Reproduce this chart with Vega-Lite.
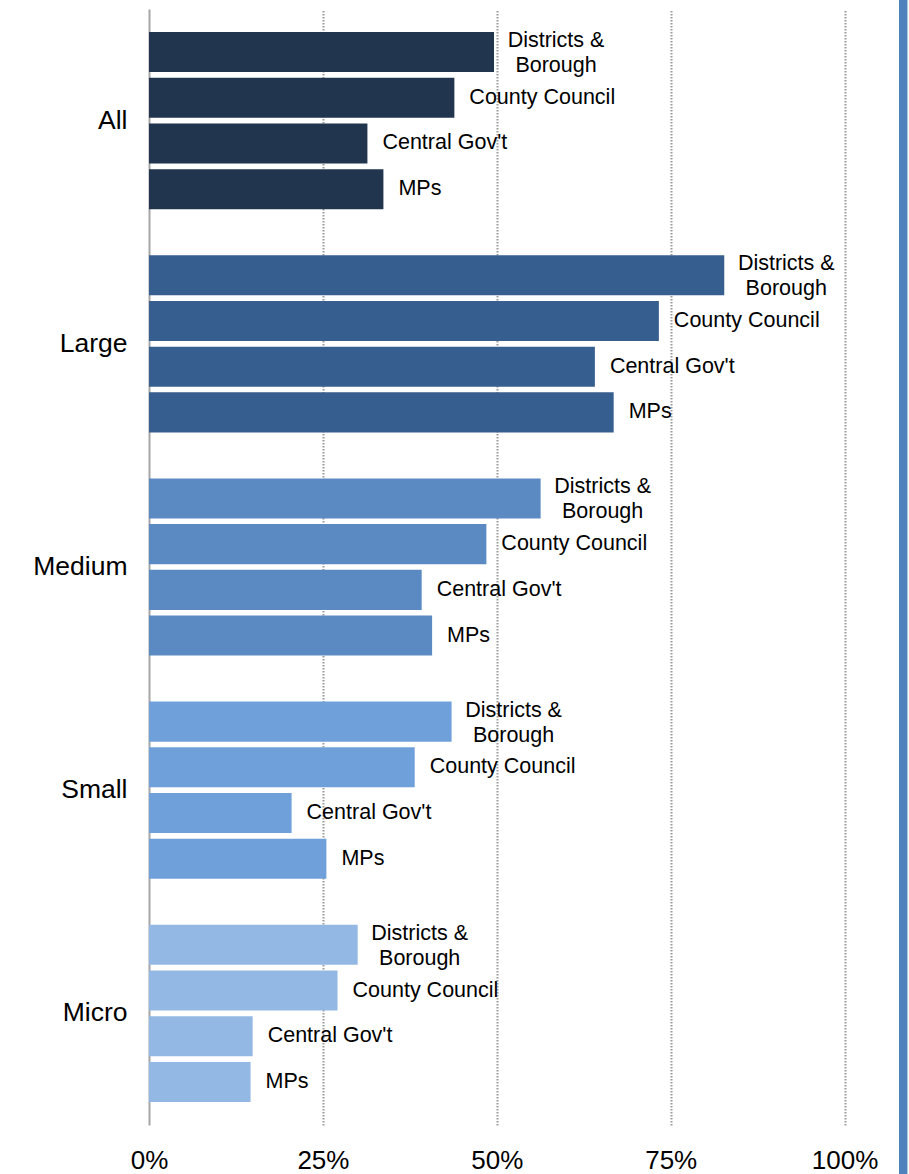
{
  "$schema": "https://vega.github.io/schema/vega-lite/v6.json",
  "autosize": "none",
  "padding": {"left": 149, "top": 9, "right": 64.4, "bottom": 49},
  "width": 695.6,
  "height": 1116,
  "background": "white",
  "config": {
    "view": {"stroke": null},
    "font": "Liberation Sans",
    "axis": {"labelFont": "Liberation Sans", "labelColor": "#000000"}
  },
  "data": {
    "values": [
      {"group": "All", "category": "Districts & Borough", "value": 49.6, "label": "Districts &\nBorough"},
      {"group": "All", "category": "County Council", "value": 43.9, "label": "County Council"},
      {"group": "All", "category": "Central Gov't", "value": 31.4, "label": "Central Gov't"},
      {"group": "All", "category": "MPs", "value": 33.7, "label": "MPs"},
      {"group": "Large", "category": "Districts & Borough", "value": 82.7, "label": "Districts &\nBorough"},
      {"group": "Large", "category": "County Council", "value": 73.3, "label": "County Council"},
      {"group": "Large", "category": "Central Gov't", "value": 64.1, "label": "Central Gov't"},
      {"group": "Large", "category": "MPs", "value": 66.8, "label": "MPs"},
      {"group": "Medium", "category": "Districts & Borough", "value": 56.3, "label": "Districts &\nBorough"},
      {"group": "Medium", "category": "County Council", "value": 48.5, "label": "County Council"},
      {"group": "Medium", "category": "Central Gov't", "value": 39.2, "label": "Central Gov't"},
      {"group": "Medium", "category": "MPs", "value": 40.7, "label": "MPs"},
      {"group": "Small", "category": "Districts & Borough", "value": 43.5, "label": "Districts &\nBorough"},
      {"group": "Small", "category": "County Council", "value": 38.2, "label": "County Council"},
      {"group": "Small", "category": "Central Gov't", "value": 20.5, "label": "Central Gov't"},
      {"group": "Small", "category": "MPs", "value": 25.5, "label": "MPs"},
      {"group": "Micro", "category": "Districts & Borough", "value": 30.0, "label": "Districts &\nBorough"},
      {"group": "Micro", "category": "County Council", "value": 27.1, "label": "County Council"},
      {"group": "Micro", "category": "Central Gov't", "value": 14.9, "label": "Central Gov't"},
      {"group": "Micro", "category": "MPs", "value": 14.6, "label": "MPs"}
    ]
  },
  "resolve": {"scale": {"y": "independent"}},
  "layer": [
    {
      "encoding": {
        "y": {
          "field": "group",
          "type": "nominal",
          "sort": ["All", "Large", "Medium", "Small", "Micro"],
          "scale": {"paddingInner": 0.206, "paddingOuter": 0.103},
          "axis": {
            "title": null,
            "ticks": false,
            "labelFontSize": 26.5,
            "labelPadding": 22,
            "domainColor": "#a6a6a6",
            "domainWidth": 2,
            "grid": false
          }
        },
        "yOffset": {
          "field": "category",
          "type": "nominal",
          "sort": ["Districts & Borough", "County Council", "Central Gov't", "MPs"],
          "scale": {"paddingInner": 0.124, "paddingOuter": 0}
        },
        "x": {
          "field": "value",
          "type": "quantitative",
          "scale": {"domain": [0, 100], "nice": false},
          "axis": {
            "title": null,
            "values": [0, 25, 50, 75, 100],
            "labelExpr": "datum.value + '%'",
            "labelFontSize": 26,
            "labelPadding": 22,
            "labelFlush": false,
            "labelAlign": "center",
            "ticks": false,
            "domain": false,
            "grid": true,
            "gridColor": "#999999",
            "gridDash": [1.5, 1.5],
            "gridWidth": 2,
            "gridOpacity": {"condition": {"test": "datum.value === 0", "value": 0}, "value": 1}
          }
        }
      },
      "layer": [
        {
          "mark": {"type": "bar"},
          "encoding": {
            "color": {
              "field": "group",
              "type": "nominal",
              "scale": {
                "domain": ["All", "Large", "Medium", "Small", "Micro"],
                "range": ["#21354f", "#365e8e", "#5b8ac2", "#6fa0da", "#93b8e3"]
              },
              "legend": null
            }
          }
        },
        {
          "transform": [{"filter": "datum.category !== 'Districts & Borough'"}],
          "mark": {"type": "text", "align": "left", "baseline": "middle", "dx": 15, "fontSize": 21.5, "color": "#000000"},
          "encoding": {"text": {"field": "label"}}
        },
        {
          "transform": [{"filter": "datum.category === 'Districts & Borough'"}],
          "mark": {"type": "text", "align": "center", "baseline": "middle", "dx": 62, "dy": -11, "fontSize": 21.5, "lineHeight": 25, "lineBreak": "\n", "color": "#000000"},
          "encoding": {"text": {"field": "label"}}
        }
      ]
    },
    {
      "mark": {"type": "rule", "strokeWidth": 8, "color": "#4f81bd", "clip": false},
      "encoding": {
        "x": {"datum": 108.4, "type": "quantitative"},
        "y": {"datum": 1.01, "type": "quantitative", "scale": {"domain": [0, 1], "nice": false, "zero": false}, "axis": null},
        "y2": {"datum": -0.05}
      }
    }
  ]
}
